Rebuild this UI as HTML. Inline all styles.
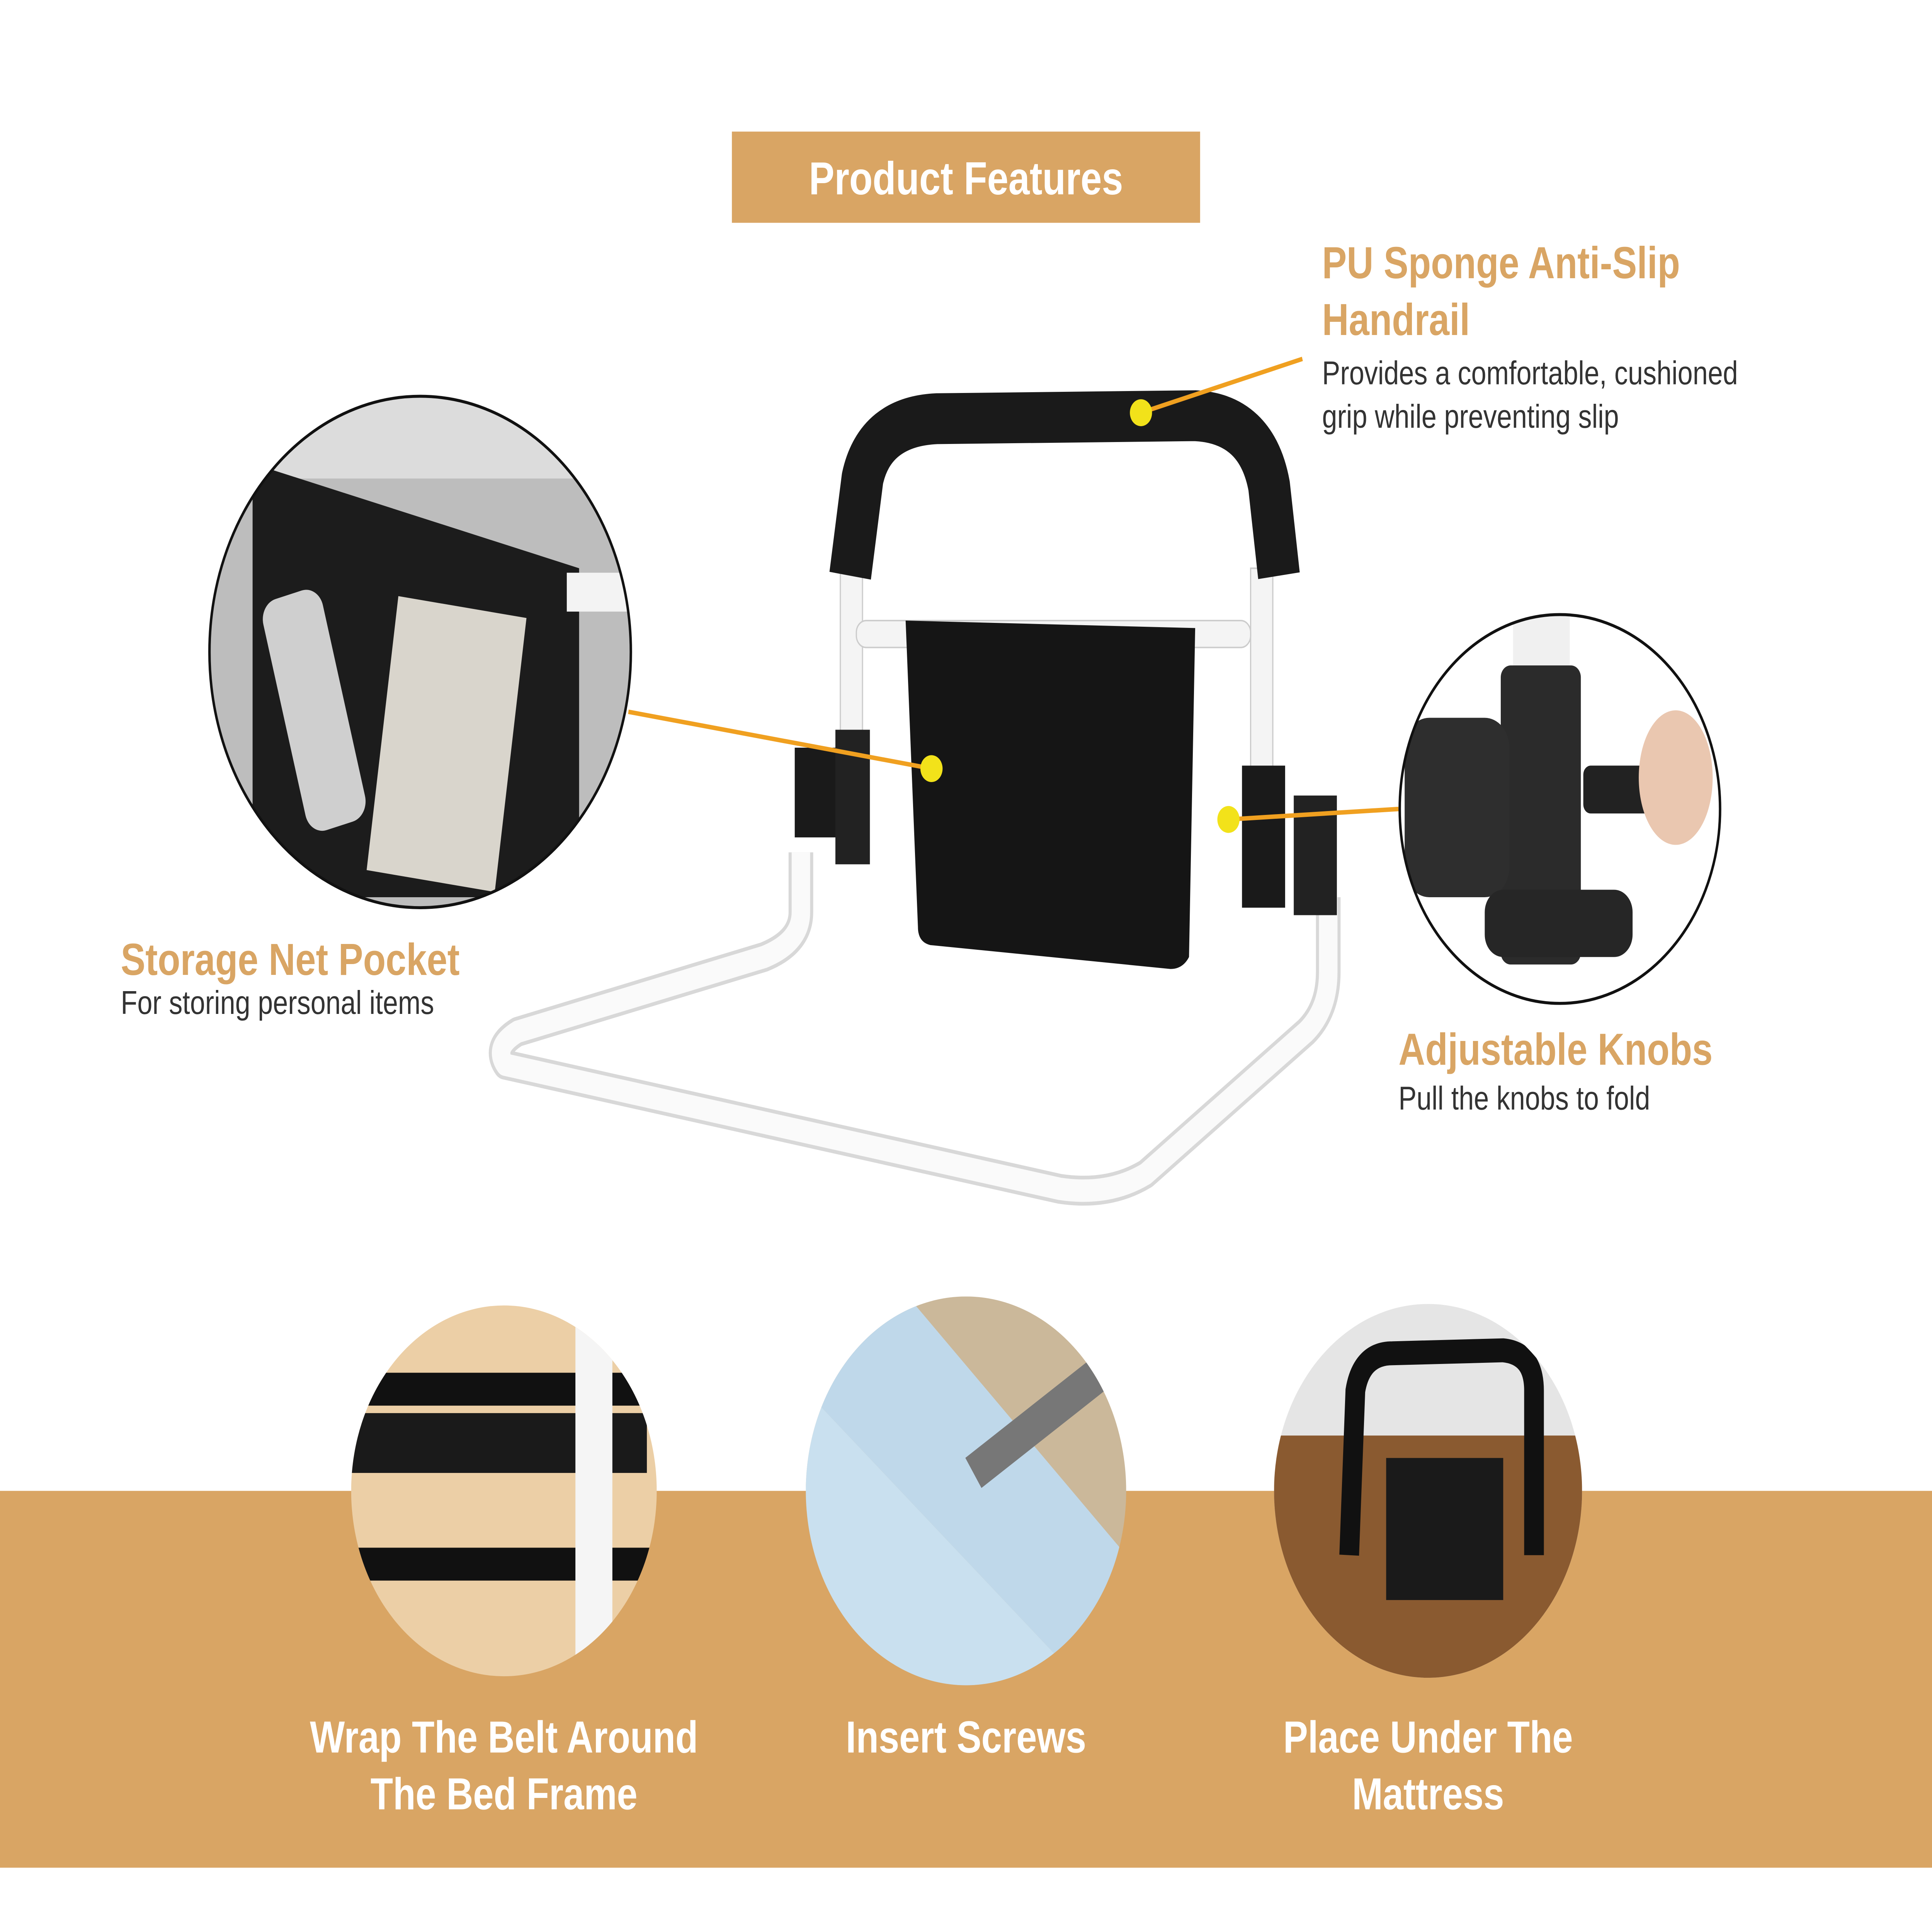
<!DOCTYPE html>
<html><head><meta charset="utf-8"><style>
html,body{margin:0;padding:0;background:#fff;width:100%;height:100%;overflow:hidden;}
svg{display:block;width:100vw;height:100vh;}
</style></head><body>
<svg viewBox="0 0 1568 1292" preserveAspectRatio="none" xmlns="http://www.w3.org/2000/svg" font-family="Liberation Sans, sans-serif">
<rect width="1568" height="1292" fill="#fff"/>
<rect x="0" y="997" width="1568" height="252" fill="#D9A564"/>
<rect x="594" y="88" width="380" height="61" fill="#D9A564"/>
<text x="784" y="130" text-anchor="middle" fill="#fff" font-size="31" font-weight="bold">Product Features</text>

<text x="1073" y="186" fill="#D9A564" font-size="30" font-weight="bold">PU Sponge Anti-Slip</text>
<text x="1073" y="224" fill="#D9A564" font-size="30" font-weight="bold">Handrail</text>
<text x="1073" y="257" fill="#333" font-size="22">Provides a comfortable, cushioned</text>
<text x="1073" y="286" fill="#333" font-size="22">grip while preventing slip</text>

<path d="M650 570 L650 610 Q650 630 620 640 L420 690 Q400 700 410 712 L860 795 Q900 800 930 785 L1060 690 Q1078 675 1078 650 L1078 600" fill="none" stroke="#d8d8d8" stroke-width="20" stroke-linejoin="round"/>
<path d="M650 570 L650 610 Q650 630 620 640 L420 690 Q400 700 410 712 L860 795 Q900 800 930 785 L1060 690 Q1078 675 1078 650 L1078 600" fill="none" stroke="#fafafa" stroke-width="15" stroke-linejoin="round"/>
<rect x="682" y="375" width="18" height="200" fill="#f4f4f4" stroke="#ccc"/>
<rect x="1015" y="380" width="18" height="220" fill="#f4f4f4" stroke="#ccc"/>
<rect x="695" y="415" width="320" height="18" rx="8" fill="#f4f4f4" stroke="#ccc"/>
<path d="M690 385 L700 320 Q710 282 760 280 L970 278 Q1020 280 1030 325 L1038 385" fill="none" stroke="#1a1a1a" stroke-width="34" stroke-linejoin="round"/>
<path d="M735 415 L970 420 L965 640 Q960 648 950 648 L755 632 Q745 630 745 620 Z" fill="#151515"/>
<rect x="645" y="500" width="60" height="60" fill="#1a1a1a"/>
<rect x="678" y="488" width="28" height="90" fill="#222"/>
<rect x="1008" y="512" width="35" height="95" fill="#1a1a1a"/>
<rect x="1050" y="532" width="35" height="80" fill="#222"/>

<line x1="1057" y1="240" x2="926" y2="276" stroke="#F0A020" stroke-width="3"/>
<circle cx="926" cy="276" r="9" fill="#F2E21A"/>
<line x1="510" y1="476" x2="756" y2="514" stroke="#F0A020" stroke-width="3"/>
<circle cx="756" cy="514" r="9" fill="#F2E21A"/>
<line x1="1135" y1="541" x2="997" y2="548" stroke="#F0A020" stroke-width="3"/>
<circle cx="997" cy="548" r="9" fill="#F2E21A"/>

<defs>
<clipPath id="cL"><circle cx="341" cy="436" r="171"/></clipPath>
<clipPath id="cR"><circle cx="1266" cy="541" r="130"/></clipPath>
<clipPath id="b1"><circle cx="409" cy="997" r="124"/></clipPath>
<clipPath id="b2"><circle cx="784" cy="997" r="130"/></clipPath>
<clipPath id="b3"><circle cx="1159" cy="997" r="125"/></clipPath>
</defs>
<g clip-path="url(#cL)">
<rect x="170" y="265" width="342" height="342" fill="#bdbdbd"/>
<rect x="170" y="265" width="342" height="55" fill="#dcdcdc"/>
<path d="M205 310 L470 380 L470 600 L205 600 Z" fill="#1c1c1c"/>
<rect x="460" y="383" width="52" height="26" fill="#f3f3f3"/>
<rect x="230" y="395" width="50" height="160" rx="14" fill="#cfcfcf" transform="rotate(-15 255 475)"/>
<rect x="310" y="405" width="105" height="185" fill="#d9d5cc" transform="rotate(8 362 497)"/>
</g>
<circle cx="341" cy="436" r="171" fill="none" stroke="#111" stroke-width="2"/>
<text x="98" y="652" fill="#D9A564" font-size="30" font-weight="bold">Storage Net Pocket</text>
<text x="98" y="678" fill="#333" font-size="22">For storing personal items</text>

<g clip-path="url(#cR)">
<rect x="1136" y="411" width="260" height="260" fill="#fff"/>
<rect x="1228" y="411" width="46" height="60" fill="#f0f0f0"/>
<rect x="1218" y="445" width="65" height="200" rx="8" fill="#2b2b2b"/>
<rect x="1140" y="480" width="85" height="120" rx="20" fill="#2e2e2e"/>
<rect x="1285" y="512" width="60" height="32" rx="6" fill="#222"/>
<rect x="1205" y="595" width="120" height="45" rx="15" fill="#262626"/>
<ellipse cx="1360" cy="520" rx="30" ry="45" fill="#eac7b0"/>
</g>
<circle cx="1266" cy="541" r="130" fill="none" stroke="#111" stroke-width="2"/>
<text x="1135" y="712" fill="#D9A564" font-size="30" font-weight="bold">Adjustable Knobs</text>
<text x="1135" y="742" fill="#333" font-size="22">Pull the knobs to fold</text>

<g clip-path="url(#b1)">
<rect x="285" y="873" width="248" height="248" fill="#eccfa6"/>
<rect x="285" y="918" width="248" height="22" fill="#111"/>
<rect x="285" y="1035" width="248" height="22" fill="#111"/>
<rect x="285" y="945" width="240" height="40" fill="#1a1a1a"/>
<rect x="467" y="873" width="30" height="248" fill="#f5f5f5"/>
</g>
<g clip-path="url(#b2)">
<rect x="654" y="867" width="260" height="260" fill="#cbb89a"/>
<path d="M654 930 L880 1127 L654 1127 Z" fill="#c9e0ef"/>
<path d="M654 870 L740 870 L914 1040 L914 1127 L880 1127 L654 930 Z" fill="#bfd8ea"/>
<line x1="790" y1="985" x2="890" y2="920" stroke="#777" stroke-width="24"/>
</g>
<g clip-path="url(#b3)">
<rect x="1034" y="872" width="250" height="250" fill="#e5e5e5"/>
<rect x="1034" y="960" width="250" height="162" fill="#8a5a30"/>
<path d="M1095 1040 L1100 930 Q1105 905 1130 905 L1220 903 Q1245 905 1245 930 L1245 1040" fill="none" stroke="#111" stroke-width="16"/>
<rect x="1125" y="975" width="95" height="95" fill="#1a1a1a"/>
</g>
<text x="409" y="1172" text-anchor="middle" fill="#fff" font-size="30" font-weight="bold">Wrap The Belt Around</text>
<text x="409" y="1210" text-anchor="middle" fill="#fff" font-size="30" font-weight="bold">The Bed Frame</text>
<text x="784" y="1172" text-anchor="middle" fill="#fff" font-size="30" font-weight="bold">Insert Screws</text>
<text x="1159" y="1172" text-anchor="middle" fill="#fff" font-size="30" font-weight="bold">Place Under The</text>
<text x="1159" y="1210" text-anchor="middle" fill="#fff" font-size="30" font-weight="bold">Mattress</text>
</svg>
</body></html>
